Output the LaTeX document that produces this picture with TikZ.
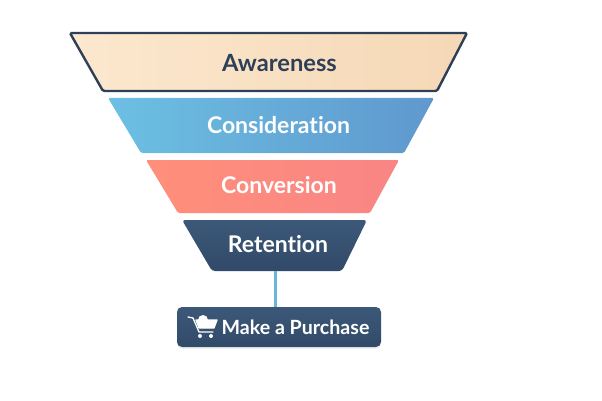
\documentclass[tikz,border=0pt]{standalone}
\usepackage{fontspec}
\setmainfont{Lato}[Ligatures=NoCommon]
\usetikzlibrary{shadows}
\definecolor{navy}{HTML}{2E3F58}
\definecolor{slate}{HTML}{3C5878}
\definecolor{slatedark}{HTML}{324A69}
\definecolor{sand}{HTML}{FCE8CF}
\definecolor{sanddark}{HTML}{F5D8B6}
\definecolor{skyblue}{HTML}{6CC0E3}
\definecolor{steelblue}{HTML}{5F98CE}
\definecolor{salmon}{HTML}{FF8F7A}
\definecolor{rosered}{HTML}{F98585}
\definecolor{linkblue}{HTML}{6BB5DC}
\tikzset{
    level/.style={rounded corners=1.5pt},
    label text/.style={inner sep=0pt, text height=17pt, text depth=0pt, font=\fontsize{23}{26}\selectfont\bfseries, text=white},
    button/.style={rectangle, rounded corners=5pt, inner sep=0pt, top color=slate, bottom color=slatedark,
        font=\fontsize{19.6}{24}\selectfont\bfseries, text=white, minimum width=204pt, minimum height=40pt,
        drop shadow={opacity=0.12, shadow xshift=0pt, shadow yshift=-2pt}},
    cart/.style={draw=white, line width=1.3pt, line join=round, line cap=round}
}
\begin{document}
\begin{tikzpicture}[x=1pt, y=1pt, node distance = 60pt]
    \useasboundingbox (0,0) rectangle (602,-401);
    \draw[level, draw=navy, line width=2.4pt, left color=sand, right color=sanddark]
        (70,-33) -- (467,-33) -- (437,-91) -- (103,-91) -- cycle;
    \path[level, left color=skyblue, right color=steelblue]
        (108,-98) -- (434,-98) -- (404,-153) -- (141,-153) -- cycle;
    \path[level, left color=salmon, right color=rosered]
        (146,-160) -- (399,-160) -- (370,-213) -- (178,-213) -- cycle;
    \path[level, rounded corners=3pt, top color=slate, bottom color=slatedark]
        (182,-220) -- (367,-220) -- (342,-271) -- (212,-271) -- cycle;

    \node (Awareness) [label text, text=navy, font=\fontsize{23.7}{26}\selectfont\bfseries] at (279.5,-63.5) {Awareness};
    \node (Consideration) [label text, node distance = 61pt, below of = Awareness, xshift=-1pt] {Consideration};
    \node (Conversion) [label text, below of = Consideration, xshift=0.5pt] {Conversion};
    \node (Retention) [label text, node distance = 59pt, below of = Conversion, xshift=-1pt] {Retention};
    \node (Purchase) [button, node distance = 83.5pt, below of = Retention, xshift=1pt] {\hspace*{33pt}Make a Purchase};

    \coordinate (RetentionEnd) at (275,-271);
    \draw[draw=linkblue, line width=3pt] (RetentionEnd) -- (Purchase.north -| RetentionEnd);

    % cart icon
    \coordinate (Cart) at (188,-317);
    \draw[cart] (Cart) -- ++(5,-1) -- ++(6,-14) -- ++(14,0);
    \draw[cart, fill=white] ([shift={(8,-3)}]Cart) -- ++(21,0) -- ++(-3,-8) -- ++(-15,0) -- cycle;
    \fill[white] ([shift={(10,-3)}]Cart) arc[start angle=180, end angle=0, radius=5];
    \fill[white] ([shift={(12,-19)}]Cart) circle[radius=2];
    \fill[white] ([shift={(23,-19)}]Cart) circle[radius=2];
\end{tikzpicture}
\end{document}
